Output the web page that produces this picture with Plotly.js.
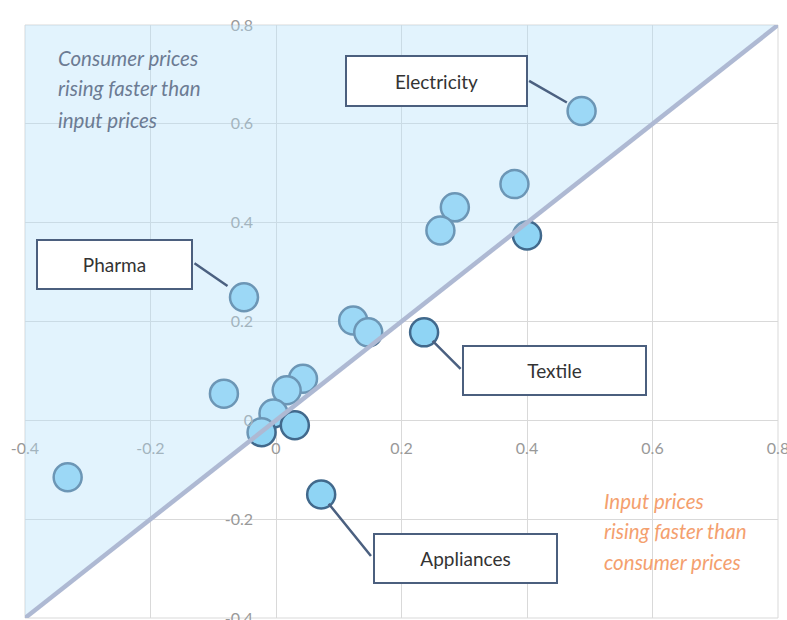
<!DOCTYPE html>
<html>
<head>
<meta charset="utf-8">
<script src="https://cdn.plot.ly/plotly-3.0.1.min.js"></script>
<style>html,body{margin:0;padding:0;background:#fff;}#chart{width:787px;height:620px;}</style>
</head>
<body>
<div id="chart"></div>
<script>
// Sector price changes: input prices (x) vs consumer prices (y)
const inputPrices    = [0.487, 0.380, 0.285, 0.262, 0.400, -0.051, 0.123, 0.147, 0.236, 0.043, 0.017, -0.083, -0.004, 0.030, -0.023, -0.332, 0.072];
const consumerPrices = [0.626, 0.478, 0.431, 0.384, 0.374, 0.249, 0.202, 0.178, 0.178, 0.084, 0.061, 0.054, 0.014, -0.010, -0.024, -0.115, -0.150];
const sectorLabels   = ['Electricity', '', '', '', '', 'Pharma', '', '', 'Textile', '', '', '', '', '', '', '', 'Appliances'];

const axisRange = [-0.4, 0.8];
const tickValues = [-0.4, -0.2, 0, 0.2, 0.4, 0.6, 0.8];
const tickLabels = ['-0.4', '-0.2', '0', '0.2', '0.4', '0.6', '0.8'];

const upperNote = ['Consumer prices', 'rising faster than', 'input prices'];
const lowerNote = ['Input prices', 'rising faster than', 'consumer prices'];

// label box placement (pixel offsets from the point) and connector geometry
const labelStyle = {
  'Electricity': {dx: -145, dy: -30, w: 177, h: 46, ax: -54, ay: -31, standoff: 17},
  'Pharma':      {dx: -130, dy: -33, w: 151, h: 45, ax: -51, ay: -35, standoff: 20},
  'Textile':     {dx: 130,  dy: 38,  w: 179, h: 45, ax: 38,  ay: 38,  standoff: 12},
  'Appliances':  {dx: 144,  dy: 64,  w: 179, h: 45, ax: 51,  ay: 63,  standoff: 12}
};

const trace = {
  type: 'scatter',
  mode: 'markers',
  x: inputPrices,
  y: consumerPrices,
  text: sectorLabels,
  hoverinfo: 'x+y+text',
  marker: {size: 28, color: '#8fd4f4', line: {color: '#41698c', width: 2.5}},
  showlegend: false,
  cliponaxis: false
};

const annotations = [];
sectorLabels.forEach(function (lab, i) {
  if (!lab) return;
  const s = labelStyle[lab];
  annotations.push({
    x: inputPrices[i], y: consumerPrices[i], xref: 'x', yref: 'y',
    text: '', showarrow: true, arrowhead: 0, arrowwidth: 2.5, arrowcolor: '#4b6080',
    ax: s.ax, ay: s.ay, axref: 'pixel', ayref: 'pixel', standoff: s.standoff
  });
  annotations.push({
    x: inputPrices[i], y: consumerPrices[i], xref: 'x', yref: 'y',
    text: lab, showarrow: false, xshift: s.dx, yshift: -s.dy,
    width: s.w, height: s.h, align: 'center', valign: 'middle',
    bgcolor: '#ffffff', bordercolor: '#4b5f7e', borderwidth: 2, borderpad: 1,
    font: {family: 'Lato, sans-serif', size: 19, color: '#333333'}
  });
});

const upperY = [0.944, 0.893, 0.840];
upperNote.forEach(function (t, k) {
  annotations.push({
    xref: 'paper', yref: 'paper', x: 0.041, y: upperY[k], xanchor: 'left', yanchor: 'middle',
    text: t, showarrow: false,
    font: {family: 'Lato, sans-serif', size: 20.5, color: '#6c7b93', style: 'italic'}
  });
});
const lowerY = [0.197, 0.147, 0.095];
lowerNote.forEach(function (t, k) {
  annotations.push({
    xref: 'paper', yref: 'paper', x: 0.766, y: lowerY[k], xanchor: 'left', yanchor: 'middle',
    text: t, showarrow: false,
    font: {family: 'Lato, sans-serif', size: 20.5, color: '#f4a06e', style: 'italic'}
  });
});

const lo = axisRange[0], hi = axisRange[1];
const shapes = [
  {type: 'rect', xref: 'paper', yref: 'paper', x0: 0, y0: 0, x1: 1, y1: 1,
   line: {color: '#d9d9d9', width: 1}, layer: 'below'},
  {type: 'path', xref: 'x', yref: 'y',
   path: 'M ' + lo + ',' + lo + ' L ' + hi + ',' + hi + ' L ' + lo + ',' + hi + ' Z',
   fillcolor: 'rgba(180,224,250,0.38)', line: {width: 0}, layer: 'above'},
  {type: 'line', xref: 'x', yref: 'y', x0: lo, y0: lo, x1: hi, y1: hi,
   line: {color: '#aeb9d3', width: 4.5}, layer: 'above'}
];

const axisCommon = {
  range: axisRange, tickvals: tickValues, ticktext: tickLabels,
  showgrid: true, gridcolor: '#d9d9d9', gridwidth: 1,
  zeroline: false, showline: false, ticks: '',
  ticklabeloverflow: 'allow',
  tickfont: {family: 'Lato, sans-serif', size: 16, color: '#999999'},
  anchor: 'free', position: 1 / 3, fixedrange: true
};

const layout = {
  width: 787, height: 620,
  margin: {l: 25, r: 9, t: 25, b: 2, pad: 0},
  paper_bgcolor: '#ffffff', plot_bgcolor: '#ffffff',
  xaxis: Object.assign({}, axisCommon, {ticklabelstandoff: 17}),
  yaxis: Object.assign({}, axisCommon, {ticklabelstandoff: 23}),
  shapes: shapes,
  annotations: annotations,
  showlegend: false
};

Plotly.newPlot('chart', [trace], layout, {displayModeBar: false, staticPlot: true});
</script>
</body>
</html>
